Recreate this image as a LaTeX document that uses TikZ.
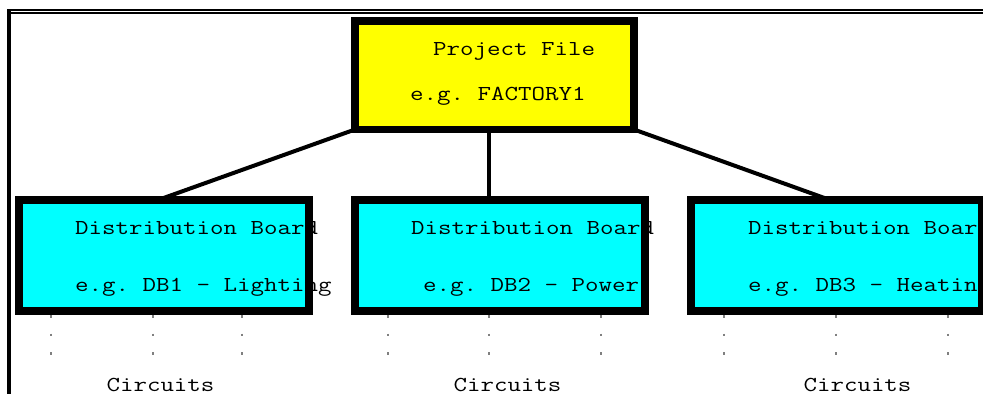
\documentclass[tikz,border=0pt]{standalone}
\usepackage{fontspec}
\setmainfont{Latin Modern Mono}[FakeStretch=1.23]
\frenchspacing
\definecolor{pfyellow}{HTML}{FFFF00}
\definecolor{dbcyan}{HTML}{00FFFF}
\definecolor{dotgray}{HTML}{808080}
\begin{document}
\begin{tikzpicture}[x=1pt,y=-1pt,
  boxfill/.style={rectangle,inner sep=0pt,outer sep=0pt},
  boxborder/.style={draw=black,line width=7.5pt},
  link/.style={draw=black,line width=4pt},
  txt/.style={anchor=base west,inner sep=0pt,font=\fontsize{21.3}{26}\selectfont,text=black},
  ctxt/.style={anchor=base,inner sep=0pt,font=\fontsize{21.3}{26}\selectfont,text=black},
  dots/.style={draw=dotgray,line width=1.3pt,dash pattern=on 2.5pt off 16pt},
  frame/.style={draw=black}]
\useasboundingbox (0,0) rectangle (983,394);
% window frame
\coordinate (ftl) at (7,10);
\coordinate (ftr) at (983,10);
\coordinate (fbl) at (9,394);
\draw[frame,line width=2.5pt] (ftl) -- (ftr);
\draw[frame,line width=1.3pt] (11,13) -- (983,13);
\draw[frame,line width=4pt] (9,9) -- (fbl);
% box fills
\node[boxfill,fill=pfyellow,minimum width=279pt,minimum height=108.5pt] (pf) at (494.5,75.25) {};
\node[boxfill,fill=dbcyan,minimum width=290pt,minimum height=111pt] (db1) at (164,255.5) {};
\node[boxfill,fill=dbcyan,minimum width=290pt,minimum height=111pt] (db2) at (500,255.5) {};
\node[boxfill,fill=dbcyan,minimum width=291pt,minimum height=111pt] (db3) at (836.5,255.5) {};
% connectors
\draw[link] (pf.south west) -- ([xshift=-6pt]db1.north);
\draw[link] ([xshift=-5.5pt]pf.south) -- ([xshift=-11pt]db2.north);
\draw[link] (pf.south east) -- ([xshift=-6.5pt]db3.north);
% texts
\node[txt] (pft1) at (433,55) {Project File};
\node[txt] (pft2) at (410,100) {e.g. FACTORY1};
\node[txt] (d1a) at (75,234) {Distribution Board};
\node[txt] (d1b) at (75,291) {e.g. DB1 - Lighting};
\node[txt] (d2a) at (411,234) {Distribution Board};
\node[txt] (d2b) at (423,291) {e.g. DB2 - Power};
\node[txt] (d3a) at (748,234) {Distribution Board};
\node[txt] (d3b) at (748,291) {e.g. DB3 - Heating};
% borders
\draw[boxborder] (pf.south west) rectangle (pf.north east);
\draw[boxborder] (db1.south west) rectangle (db1.north east);
\draw[boxborder] (db2.south west) rectangle (db2.north east);
\draw[boxborder] (db3.south west) rectangle (db3.north east);
% circuit dotted lines
\foreach \n/\x in {a/51,b/153,c/242}{
  \coordinate (e1\n) at (\x,356);
  \draw[dots] (db1.south -| e1\n) ++(0,4) -- (e1\n);
}
\foreach \n/\x in {a/388,b/489,c/601}{
  \coordinate (e2\n) at (\x,356);
  \draw[dots] (db2.south -| e2\n) ++(0,4) -- (e2\n);
}
\foreach \n/\x in {a/724,b/836,c/948}{
  \coordinate (e3\n) at (\x,356);
  \draw[dots] (db3.south -| e3\n) ++(0,4) -- (e3\n);
}
\node[ctxt] (c1) at (160.5,391) {Circuits};
\node[ctxt] (c2) at (507.5,391) {Circuits};
\node[ctxt] (c3) at (857.5,391) {Circuits};
\end{tikzpicture}
\end{document}
